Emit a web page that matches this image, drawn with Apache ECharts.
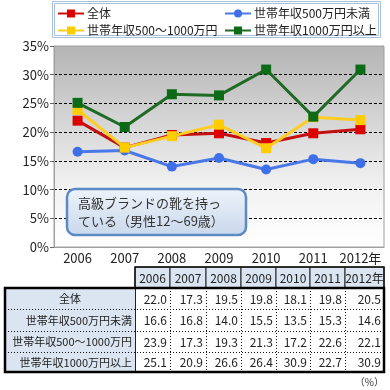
<!DOCTYPE html>
<html><head><meta charset="utf-8">
<script src="https://cdn.jsdelivr.net/npm/echarts@6/dist/echarts.min.js"></script>
<style>html,body{margin:0;padding:0;background:#fff}#c{width:390px;height:390px}</style>
</head><body><div id="c"></div>
<script>
// ---- data ----
const years = ['2006','2007','2008','2009','2010','2011','2012'];
const yearLabels = ['2006','2007','2008','2009','2010','2011','2012年'];
const seriesNames = ['全体','世帯年収500万円未満','世帯年収500～1000万円','世帯年収1000万円以上'];
const total    = [22.0,17.3,19.5,19.8,18.1,19.8,20.5];
const under500 = [16.6,16.8,14.0,15.5,13.5,15.3,14.6];
const mid      = [23.9,17.3,19.3,21.3,17.2,22.6,22.1];
const over1000 = [25.1,20.9,26.6,26.4,30.9,22.7,30.9];
const yMin = 0, yMax = 35, yStep = 5;
const noteLines = ['高級ブランドの靴を持っ','ている（男性12～69歳）'];
const unitText = '（%）';

// ---- styles ----
const FONT = "'Noto Sans CJK JP', sans-serif";
const colors = ['#dd0000','#3f6fe8','#ffcc00','#0d6a17'];
const lineColors = ['#c41010','#4a78e6','#ffcc22','#1f6a25'];
const symbols = ['rect','circle','rect','rect'];
const allData = [total, under500, mid, over1000];

const chart = echarts.init(document.getElementById('c'), null, {renderer:'canvas'});

const series = seriesNames.map((n,i)=>({
  name:n, type:'line', data:allData[i],
  symbol:symbols[i], symbolSize:10, showAllSymbol:true,
  itemStyle:{color:colors[i]},
  lineStyle:{color:lineColors[i], width:3},
  emphasis:{disabled:true}, animation:false, z:2+i
}));

// ---- table graphics ----
const colX = [135,170,206,241,276,310,345,384];
const headTop = 267, bodyTop = 288, rowBounds = [288,309,331,352,372];
const tableLeft = 5, labelRight = 135;
const g = [];
for (let i=0;i<7;i++){
  g.push({type:'rect', shape:{x:colX[i], y:headTop, width:colX[i+1]-colX[i], height:bodyTop-headTop},
    style:{fill:'#dbe5f1', stroke:'#222', lineWidth:1}, z:5});
  g.push({type:'text', x:(colX[i]+colX[i+1])/2, y:(headTop+bodyTop)/2+0.5,
    style:{text:yearLabels[i], font:'12px '+FONT, fill:'#222', align:'center', verticalAlign:'middle'}, z:6});
}
g.push({type:'rect', shape:{x:colX[0], y:headTop, width:colX[7]-colX[0], height:bodyTop-headTop},
  style:{fill:null, stroke:'#111', lineWidth:1.5}, z:6});
g.push({type:'rect', shape:{x:tableLeft, y:bodyTop, width:labelRight-tableLeft, height:rowBounds[4]-bodyTop},
  style:{fill:'#dbe5f1'}, z:5});
g.push({type:'rect', shape:{x:labelRight, y:bodyTop, width:colX[7]-labelRight, height:rowBounds[4]-bodyTop},
  style:{fill:'#fff'}, z:5});
for (let r=1;r<4;r++){
  g.push({type:'line', shape:{x1:tableLeft, y1:rowBounds[r]+0.5, x2:colX[7], y2:rowBounds[r]+0.5},
    style:{stroke:'#111', lineWidth:1, lineDash:[1,2]}, z:6});
}
for (let i=1;i<7;i++){
  g.push({type:'line', shape:{x1:colX[i]+0.5, y1:bodyTop, x2:colX[i]+0.5, y2:rowBounds[4]},
    style:{stroke:'#111', lineWidth:1, lineDash:[1,2]}, z:6});
}
g.push({type:'line', shape:{x1:labelRight+0.5, y1:bodyTop, x2:labelRight+0.5, y2:rowBounds[4]},
  style:{stroke:'#222', lineWidth:1}, z:6});
g.push({type:'rect', shape:{x:tableLeft, y:bodyTop, width:colX[7]-tableLeft, height:rowBounds[4]-bodyTop},
  style:{fill:null, stroke:'#000', lineWidth:2.5}, z:7});
for (let r=0;r<4;r++){
  const cy = (rowBounds[r]+rowBounds[r+1])/2+0.5;
  g.push({type:'text', x: r===0 ? (tableLeft+labelRight)/2 : labelRight-3, y:cy,
    style:{text:seriesNames[r], font:'11px '+FONT, fill:'#222', align: r===0?'center':'right', verticalAlign:'middle'}, z:8});
  for (let i=0;i<7;i++){
    g.push({type:'text', x:colX[i+1]-3, y:cy,
      style:{text:allData[r][i].toFixed(1), font:'12px '+FONT, fill:'#222', align:'right', verticalAlign:'middle'}, z:8});
  }
}
g.push({type:'text', x:384, y:382, style:{text:unitText, font:'10px '+FONT, fill:'#333', align:'right', verticalAlign:'middle'}, z:8});

// legend box (double border)
g.push({type:'rect', shape:{x:52.5, y:1.5, width:328, height:36}, style:{fill:'#fff', stroke:'#a9c0dc', lineWidth:1}, z:1});
g.push({type:'rect', shape:{x:54.5, y:3.5, width:324, height:32}, style:{fill:null, stroke:'#a9c0dc', lineWidth:1}, z:1});

// annotation box
g.push({type:'rect', shape:{x:67, y:189, width:179, height:46, r:8},
  style:{fill:new echarts.graphic.LinearGradient(0,0,0,1,[{offset:0,color:'#eef3fa'},{offset:1,color:'#c9d8ec'}]),
    stroke:'#5b8ac6', lineWidth:2.5}, z:20});
g.push({type:'text', x:78, y:203, style:{text:noteLines[0], font:'13px '+FONT, fill:'#333', verticalAlign:'middle'}, z:21});
g.push({type:'text', x:78, y:221, style:{text:noteLines[1], font:'13px '+FONT, fill:'#333', verticalAlign:'middle'}, z:21});

const legendCommon = {orient:'vertical', itemWidth:26, itemHeight:10, itemGap:4, z:4,
  textStyle:{fontSize:12, fontFamily:FONT, color:'#222', lineHeight:13, padding:[0,0,0,-2]},
  padding:0, selectedMode:false};

chart.setOption({
  animation:false,
  backgroundColor:'#fff',
  legend:[
    Object.assign({left:57, top:7, data:[seriesNames[0], seriesNames[2]]}, legendCommon),
    Object.assign({left:224, top:7, data:[seriesNames[1], seriesNames[3]]}, legendCommon)
  ],
  grid:{left:54, right:6, top:46, bottom:143, show:true, borderColor:'#a0a0a0', borderWidth:1,
    backgroundColor:new echarts.graphic.LinearGradient(0,0,0,1,[{offset:0,color:'#b4b4b4'},{offset:0.7,color:'#f2f2f2'},{offset:1,color:'#ffffff'}])},
  xAxis:{type:'category', data:yearLabels, boundaryGap:true,
    axisLine:{lineStyle:{color:'#a0a0a0'}},
    axisTick:{inside:true, length:5, lineStyle:{color:'#888'}},
    axisLabel:{interval:0, hideOverlap:false, fontSize:13, fontFamily:FONT, color:'#222', margin:5}},
  yAxis:{type:'value', min:yMin, max:yMax, interval:yStep,
    axisLine:{show:true, lineStyle:{color:'#a0a0a0'}},
    axisTick:{show:true, length:4, lineStyle:{color:'#666'}},
    axisLabel:{fontSize:13, fontFamily:FONT, color:'#222', margin:5, formatter:'{value}%'},
    splitLine:{show:true, showMinLine:false, showMaxLine:false, lineStyle:{color:'#000', type:[3,2], width:1}}},
  series:series,
  graphic:{elements:g}
});
</script></body></html>
